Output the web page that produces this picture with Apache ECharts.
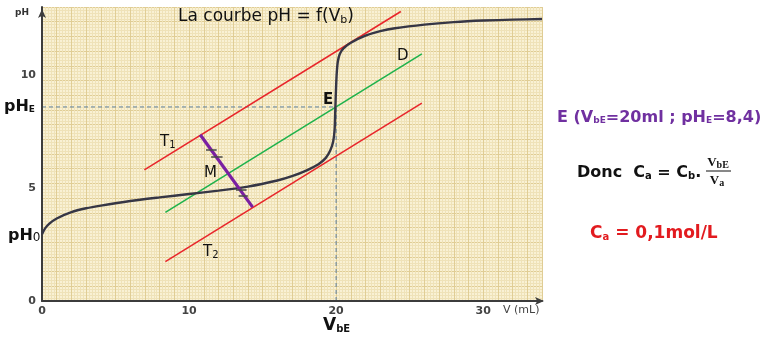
<!DOCTYPE html>
<html>
<head>
<meta charset="utf-8">
<script src="https://cdn.jsdelivr.net/npm/echarts@6/dist/echarts.min.js"></script>
<style>
html,body{margin:0;padding:0;background:#fff;}
#chart{width:770px;height:339px;}
</style>
</head>
<body>
<div id="chart"></div>
<script>
// ---- data ----
const volume = [0, 0.2, 0.5, 1, 2, 3, 4, 6, 8, 10, 12, 14, 16, 17, 18, 18.8, 19.3, 19.6, 19.8, 19.9, 19.95, 20.0, 20.05, 20.12, 20.25, 20.5, 21, 22, 23, 24, 26, 28, 30, 32, 34];
const ph     = [2.95, 3.2, 3.42, 3.65, 3.93, 4.1, 4.22, 4.42, 4.58, 4.73, 4.88, 5.06, 5.33, 5.52, 5.78, 6.05, 6.33, 6.65, 7.05, 7.6, 8.58, 9.5, 10.15, 10.6, 10.92, 11.17, 11.42, 11.73, 11.93, 12.06, 12.22, 12.33, 12.4, 12.44, 12.47];
const tangentT1 = [[6.96, 5.80], [24.40, 12.80]];
const tangentT2 = [[8.39, 1.74], [25.83, 8.75]];
const lineD     = [[8.39, 3.92], [25.83, 10.93]];
const segmentM  = [[10.76, 7.35], [14.32, 4.15]];
const equalMarks = [
  [[11.15, 6.68], [11.88, 6.68]],
  [[11.50, 6.38], [12.28, 6.38]],
  [[13.19, 4.91], [13.91, 4.91]],
  [[13.37, 4.65], [14.00, 4.65]]
];
const pointE = [20, 8.58];
const xTicks = [0, 10, 20, 30];
const yTicks = [0, 5, 10];

const curve = volume.map((v, i) => [v, ph[i]]);

const chart = echarts.init(document.getElementById('chart'), null, {renderer: 'canvas'});
const F = '"DejaVu Sans", "Noto Sans", sans-serif';
const gridMajor = '#e0cd95';
const gridMinor = '#efe2b8';

const option = {
  animation: false,
  backgroundColor: '#ffffff',
  grid: {left: 42, top: 7, width: 500, height: 294, show: true, backgroundColor: '#f9f1d4', borderWidth: 0, outerBoundsMode: 'none'},
  xAxis: [
    {
      type: 'value', min: 0, max: 34, interval: 10, gridIndex: 0, position: 'bottom', z: 5,
      axisLine: {show: true, onZero: false, lineStyle: {color: '#3c3c3c', width: 2}, symbol: ['none', 'arrow'], symbolSize: [6, 9], symbolOffset: [0, 2]},
      axisTick: {show: false},
      splitLine: {show: false},
      axisLabel: {
        margin: 5, color: '#444', fontFamily: F, fontSize: 11, fontWeight: 'bold',
        formatter: v => xTicks.includes(v) ? String(v) : ''
      }
    },
    {
      type: 'value', min: 0, max: 34, interval: 1, gridIndex: 0, position: 'top',
      axisLine: {show: false}, axisTick: {show: false}, axisLabel: {show: false},
      splitLine: {show: true, lineStyle: {color: gridMajor, width: 1}},
      minorTick: {show: false, splitNumber: 5},
      minorSplitLine: {show: true, lineStyle: {color: gridMinor, width: 1}}
    }
  ],
  yAxis: [
    {
      type: 'value', min: 0, max: 13, interval: 5, gridIndex: 0, position: 'left', z: 5,
      axisLine: {show: true, onZero: false, lineStyle: {color: '#3c3c3c', width: 2}, symbol: ['none', 'arrow'], symbolSize: [6, 9], symbolOffset: [0, -2]},
      axisTick: {show: false},
      splitLine: {show: false},
      axisLabel: {
        margin: 6, color: '#444', fontFamily: F, fontSize: 11, fontWeight: 'bold',
        formatter: v => yTicks.includes(v) ? String(v) : ''
      }
    },
    {
      type: 'value', min: 0, max: 20, interval: 1, gridIndex: 0, position: 'right',
      axisLine: {show: false}, axisTick: {show: false}, axisLabel: {show: false},
      splitLine: {show: true, lineStyle: {color: gridMajor, width: 1}},
      minorTick: {show: false, splitNumber: 5},
      minorSplitLine: {show: true, lineStyle: {color: gridMinor, width: 1}}
    }
  ],
  series: [
    {
      type: 'line', data: [[0, pointE[1]], pointE], symbol: 'none', z: 3,
      lineStyle: {color: '#5d7f9f', width: 1, type: [4, 3]}
    },
    {
      type: 'line', data: [[pointE[0], 0], pointE], symbol: 'none', z: 3,
      lineStyle: {color: '#5d7f9f', width: 1, type: [4, 3]}
    },
    {
      type: 'line', data: tangentT1, symbol: 'none', z: 4,
      lineStyle: {color: '#e8262b', width: 1.6}
    },
    {
      type: 'line', data: tangentT2, symbol: 'none', z: 4,
      lineStyle: {color: '#e8262b', width: 1.6}
    },
    {
      type: 'line', data: lineD, symbol: 'none', z: 4,
      lineStyle: {color: '#1fb24c', width: 1.6}
    },
    {
      type: 'line', data: curve, symbol: 'none', smooth: 0.25, z: 6,
      lineStyle: {color: '#363645', width: 2.4}
    },
    {
      type: 'line', data: segmentM, symbol: 'none', z: 7,
      lineStyle: {color: '#7a1fa2', width: 3.2}
    },
    {
      type: 'lines', coordinateSystem: 'cartesian2d', z: 8,
      data: equalMarks.map(c => ({coords: c})),
      lineStyle: {color: '#4a4a4a', width: 1.5, opacity: 1}
    }
  ],
  graphic: [
    {type: 'text', x: 178, y: 17, z: 20, style: {
      text: 'La courbe pH = f(V{s|b})', fill: '#111', font: '17px ' + F, textVerticalAlign: 'middle',
      rich: {s: {fontSize: 11, fontFamily: F, padding: [6, 0, 0, 0]}}
    }},
    {type: 'text', x: 15, y: 13, z: 20, style: {text: 'pH', fill: '#333', font: 'bold 9px ' + F, textVerticalAlign: 'middle'}},
    {type: 'text', x: 4, y: 107, z: 20, style: {
      text: 'pH{s|E}', fill: '#111', font: 'bold 16px ' + F, textVerticalAlign: 'middle',
      rich: {s: {fontSize: 9, fontWeight: 'bold', fontFamily: F, padding: [6, 0, 0, 0]}}
    }},
    {type: 'text', x: 8, y: 236, z: 20, style: {
      text: 'pH{s|0}', fill: '#111', font: 'bold 16px ' + F, textVerticalAlign: 'middle',
      rich: {s: {fontSize: 12, fontFamily: F, padding: [3, 0, 0, 0]}}
    }},
    {type: 'text', x: 323, y: 326, z: 20, style: {
      text: 'V{s|bE}', fill: '#111', font: 'bold 17px ' + F, textVerticalAlign: 'middle',
      rich: {s: {fontSize: 10, fontWeight: 'bold', fontFamily: F, padding: [6, 0, 0, 0]}}
    }},
    {type: 'text', x: 503, y: 310, z: 20, style: {text: 'V (mL)', fill: '#444', font: '11px ' + F, textVerticalAlign: 'middle'}},
    {type: 'text', x: 160, y: 142, z: 20, style: {
      text: 'T{s|1}', fill: '#111', font: '15px ' + F, textVerticalAlign: 'middle',
      rich: {s: {fontSize: 10, fontFamily: F, padding: [6, 0, 0, 0]}}
    }},
    {type: 'text', x: 203, y: 252, z: 20, style: {
      text: 'T{s|2}', fill: '#111', font: '15px ' + F, textVerticalAlign: 'middle',
      rich: {s: {fontSize: 10, fontFamily: F, padding: [6, 0, 0, 0]}}
    }},
    {type: 'text', x: 204, y: 173, z: 20, style: {text: 'M', fill: '#111', font: '15px ' + F, textVerticalAlign: 'middle'}},
    {type: 'text', x: 323, y: 100, z: 20, style: {text: 'E', fill: '#111', font: 'bold 15px ' + F, textVerticalAlign: 'middle'}},
    {type: 'text', x: 397, y: 56, z: 20, style: {text: 'D', fill: '#111', font: '15px ' + F, textVerticalAlign: 'middle'}},
    {type: 'text', x: 557, y: 118, z: 20, style: {
      text: 'E (V{s|bE}=20ml ; pH{s|E}=8,4)', fill: '#7030a0', font: 'bold 16px ' + F, textVerticalAlign: 'middle',
      rich: {s: {fontSize: 9, fontWeight: 'bold', fontFamily: F, padding: [6, 0, 0, 0]}}
    }},
    {type: 'text', x: 577, y: 173, z: 20, style: {
      text: 'Donc  C{s|a} = C{s|b}.', fill: '#111', font: 'bold 16px ' + F, textVerticalAlign: 'middle',
      rich: {s: {fontSize: 10, fontWeight: 'bold', fontFamily: F, padding: [6, 0, 0, 0]}}
    }},
    {type: 'text', x: 718, y: 163, z: 20, style: {
      text: 'V{s|bE}', fill: '#111', font: 'bold 13px "Liberation Serif", serif', textAlign: 'center', textVerticalAlign: 'middle',
      rich: {s: {fontSize: 10, fontWeight: 'bold', fontFamily: '"Liberation Serif", serif', padding: [4, 0, 0, 0]}}
    }},
    {type: 'line', z: 20, shape: {x1: 706, y1: 171, x2: 731, y2: 171}, style: {stroke: '#111', lineWidth: 1}},
    {type: 'text', x: 717, y: 181, z: 20, style: {
      text: 'V{s|a}', fill: '#111', font: 'bold 13px "Liberation Serif", serif', textAlign: 'center', textVerticalAlign: 'middle',
      rich: {s: {fontSize: 10, fontWeight: 'bold', fontFamily: '"Liberation Serif", serif', padding: [4, 0, 0, 0]}}
    }},
    {type: 'text', x: 590, y: 234, z: 20, style: {
      text: 'C{s|a} = 0,1mol/L', fill: '#e21b1f', font: 'bold 17px ' + F, textVerticalAlign: 'middle',
      rich: {s: {fontSize: 10, fontWeight: 'bold', fontFamily: F, padding: [6, 0, 0, 0]}}
    }}
  ]
};
chart.setOption(option);
</script>
</body>
</html>
